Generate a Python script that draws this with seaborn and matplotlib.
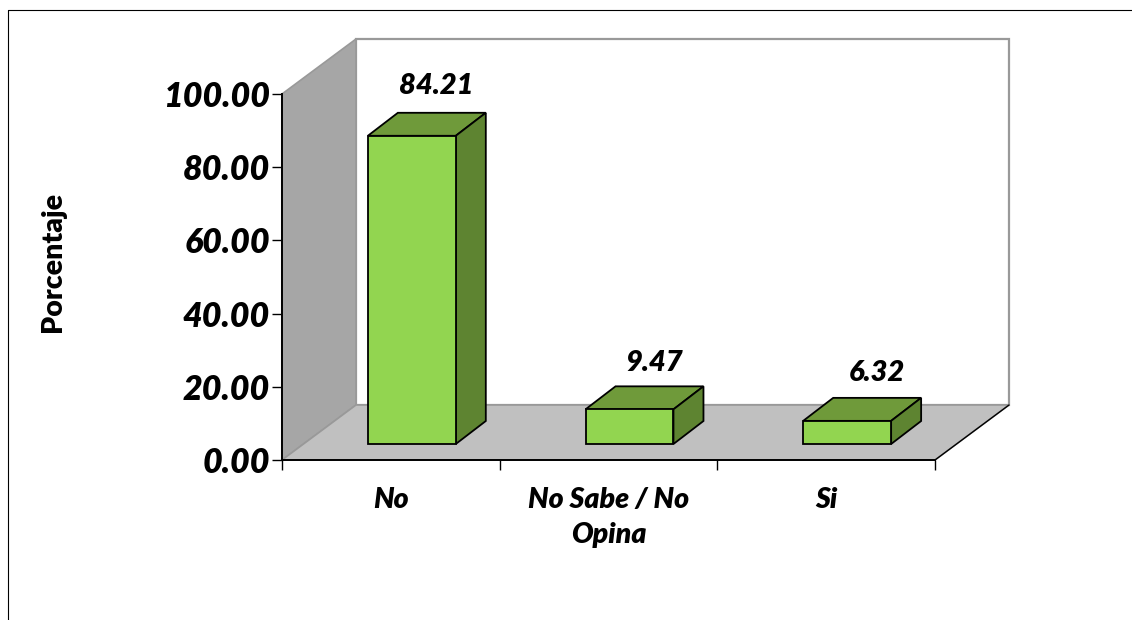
import matplotlib
matplotlib.use('Agg')
import matplotlib.pyplot as plt
from matplotlib.patches import Polygon
from matplotlib.transforms import Affine2D
import pandas as pd
import seaborn as sns

categories = ['No', 'No Sabe / No\nOpina', 'Si']
values = [84.21, 9.47, 6.32]
value_labels = ['84.21', '9.47', '6.32']
y_ticks = [0, 20, 40, 60, 80, 100]

sns.set_theme(style='white')
plt.rcParams['font.family'] = ['Lato', 'DejaVu Sans']
plt.rcParams['text.color'] = 'black'
plt.rcParams['ytick.color'] = 'black'

W, H = 1132, 620
fig = plt.figure(figsize=(W / 100, H / 100), dpi=100)
ax = fig.add_axes([282 / W, 1 - 460 / H, 653 / W, 366 / H])

df = pd.DataFrame({'cat': categories, 'val': values})
sns.barplot(data=df, x='cat', y='val', color='#92D550', saturation=1, width=0.404,
            edgecolor='black', linewidth=1.3, ax=ax, zorder=5)
ax.set_ylim(0, 100)
ax.set_xlim(-0.5, 2.5)

# depth of the box and of the bars, in pixels
wall_d = (74, 55)
bar_d = (30, 23)
shift_x, shift_y = 21, 16
label_nudge = [(-6, 14), (-5, 10), (0, 12)]
pixels = Affine2D()


def face(points, color, trans, z, ec='black', lw=1.3):
    p = Polygon(points, closed=True, facecolor=color, edgecolor=ec, linewidth=lw,
                transform=trans, clip_on=False, zorder=z)
    ax.add_patch(p)


# walls and floor
corners = ax.transAxes.transform([(0, 0), (1, 0), (1, 1), (0, 1)])
bl, br, tr, tl = corners
face([bl + wall_d, br + wall_d, tr + wall_d, tl + wall_d], 'white', pixels, 1, ec='#999999', lw=1.6)
face([bl, tl, tl + wall_d, bl + wall_d], '#A6A6A6', pixels, 2, ec='#999999', lw=1.2)
face([bl, br, br + wall_d, bl + wall_d], '#C0C0C0', pixels, 2, ec='#999999', lw=1.2)
ax.plot(*zip(br, br + wall_d), color='black', lw=1.0, transform=pixels, clip_on=False, zorder=3)

# bars: seaborn draws the front face, depth faces come from its geometry
bar_shift = ax.transData + Affine2D().translate(shift_x, shift_y)
for bar, label, nudge in zip(list(ax.patches)[:len(values)], value_labels, label_nudge):
    bar.set_transform(bar_shift)
    bar.set_clip_on(False)
    x0, w, h = bar.get_x(), bar.get_width(), bar.get_height()
    a = bar_shift.transform((x0, h))
    b = bar_shift.transform((x0 + w, h))
    c = bar_shift.transform((x0 + w, 0))
    face([a, b, b + bar_d, a + bar_d], '#6F9A3A', pixels, 4)
    face([b, c, c + bar_d, b + bar_d], '#5E8431', pixels, 4)
    ax.annotate(label, xy=(b + a) / 2 + bar_d, xycoords='figure pixels', xytext=nudge,
                textcoords='offset pixels', ha='center', va='bottom', fontsize=21,
                fontweight='heavy', fontstyle='italic', zorder=6, annotation_clip=False)

# axis styling
for name, sp in ax.spines.items():
    sp.set_visible(name in ('left', 'bottom'))
    sp.set_color('black')
    sp.set_linewidth(1.4)
    sp.set_zorder(3)
ax.patch.set_visible(False)
ax.set_yticks(y_ticks)
ax.set_yticklabels([f'{t:.2f}' for t in y_ticks], fontsize=24.5, fontweight='heavy', fontstyle='italic')
ax.set_xticks([-0.5, 0.5, 1.5, 2.5], labels=[])
ax.tick_params(axis='y', left=True, length=7, width=1, pad=1.5, color='black')
ax.tick_params(axis='x', bottom=True, length=7, width=1, color='black')
ax.set_xlabel('')
ax.set_ylabel('')
for i, c in enumerate(categories):
    ax.annotate(c, xy=(i, 0), xycoords=('data', 'axes fraction'), xytext=(0, -27),
                textcoords='offset pixels', ha='center', va='top', fontsize=20.5,
                fontweight='heavy', fontstyle='italic', linespacing=1.42, annotation_clip=False)
fig.text(53 / W, 1 - 262 / H, 'Porcentaje', rotation=90, ha='center', va='center',
         fontsize=20.5, fontweight='heavy')

# outer frame, cut off at the right and bottom of the image
fig.add_artist(plt.Line2D([8 / W, 8 / W], [0, 1 - 10 / H], color='black', lw=0.8))
fig.add_artist(plt.Line2D([8 / W, 1], [1 - 10 / H, 1 - 10 / H], color='black', lw=0.8))

fig.savefig('out.png', dpi=100, facecolor='white')
